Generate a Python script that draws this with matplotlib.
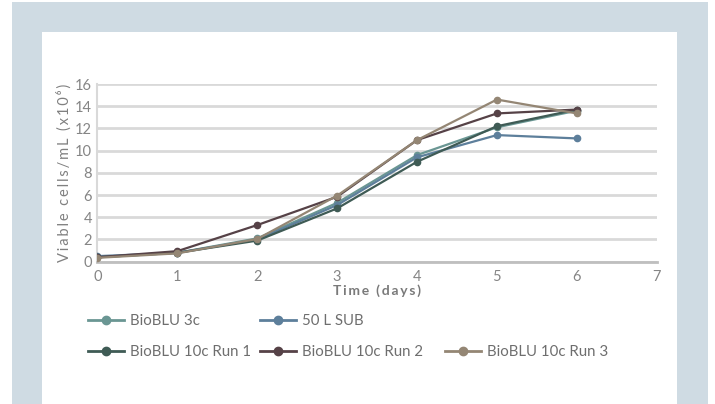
import matplotlib
matplotlib.use("Agg")
import matplotlib.pyplot as plt
from matplotlib.patches import Rectangle
from matplotlib.lines import Line2D

plt.rcParams['font.family'] = ['Lato', 'DejaVu Sans']

days = [0, 1, 2, 3, 4, 5, 6]
bioblu_3c = [0.4, 0.8, 2.1, 5.3, 9.6, 12.1, 13.6]
sub_50l = [0.5, 0.8, 2.0, 5.1, 9.4, 11.4, 11.1]
bioblu_10c_run1 = [0.4, 0.8, 1.9, 4.8, 9.0, 12.2, 13.7]
bioblu_10c_run2 = [0.4, 0.95, 3.3, 5.85, 10.95, 13.35, 13.7]
bioblu_10c_run3 = [0.35, 0.75, 2.05, 5.95, 10.95, 14.6, 13.35]

series = [
    ("BioBLU 3c", bioblu_3c, "#6a9693"),
    ("50 L SUB", sub_50l, "#5d7f9b"),
    ("BioBLU 10c Run 1", bioblu_10c_run1, "#3f5b55"),
    ("BioBLU 10c Run 2", bioblu_10c_run2, "#564247"),
    ("BioBLU 10c Run 3", bioblu_10c_run3, "#948674"),
]

x_ticks = [0, 1, 2, 3, 4, 5, 6, 7]
y_ticks = [0, 2, 4, 6, 8, 10, 12, 14, 16]

W, H = 715, 404
fig = plt.figure(figsize=(W / 100, H / 100), dpi=100)
fig.patch.set_facecolor("white")

# framed backdrop
fig.patches.append(Rectangle((12 / W, 0), 696 / W, 402 / H, transform=fig.transFigure,
                             facecolor="#cfdbe3", edgecolor="none", zorder=-10))
fig.patches.append(Rectangle((42 / W, 0), 635 / W, 372 / H, transform=fig.transFigure,
                             facecolor="white", edgecolor="none", zorder=-9))

ax = fig.add_axes([97.5 / W, 1 - 261.7 / H, (656.7 - 97.5) / W, (261.7 - 84) / H])
ax.set_facecolor("none")

for label, vals, color in series:
    ax.plot(days, vals, color=color, lw=1.6, marker="o", ms=4.5, label=label,
            solid_capstyle="round", zorder=3)

ax.set_xlim(0, 7)
ax.set_ylim(0, 16)
ax.set_xticks(x_ticks)
ax.set_yticks(y_ticks)
ax.yaxis.grid(True, color="#d9d9d9", lw=2)
ax.set_axisbelow(True)
for s in ["top", "right"]:
    ax.spines[s].set_visible(False)
ax.spines["left"].set_color("#d9d9d9")
ax.spines["left"].set_linewidth(1.5)
ax.spines["bottom"].set_color("#bfbfbf")
ax.spines["bottom"].set_linewidth(2)
ax.tick_params(length=0, colors="#858585", labelsize=10.5, pad=6)
ax.tick_params(axis="y", pad=4)

thin = "\u2009"
ylab = thin.join("Viable cells/mL (x10\u2076)")
ax.set_ylabel(ylab, color="#808080", fontsize=10.5, labelpad=2)
xlab = thin.join("Time (days)")
ax.set_xlabel(xlab, color="#7a7a7a", fontsize=10, fontweight="bold", labelpad=0)

# legend entries, placed individually
positions = [(88, 321), (260, 321), (88, 352), (260, 352), (445, 352)]
for (label, vals, color), (px, py) in zip(series, positions):
    h = Line2D([], [], color=color, lw=2, marker="o", ms=6)
    lg = fig.legend([h], [label], loc="center left",
                    bbox_to_anchor=(px / W, 1 - py / H), frameon=False,
                    borderpad=0, borderaxespad=0, handlelength=2.4,
                    handletextpad=0.4, fontsize=10.8, labelcolor="#6e6e6e")

fig.savefig("out.png", dpi=100)
